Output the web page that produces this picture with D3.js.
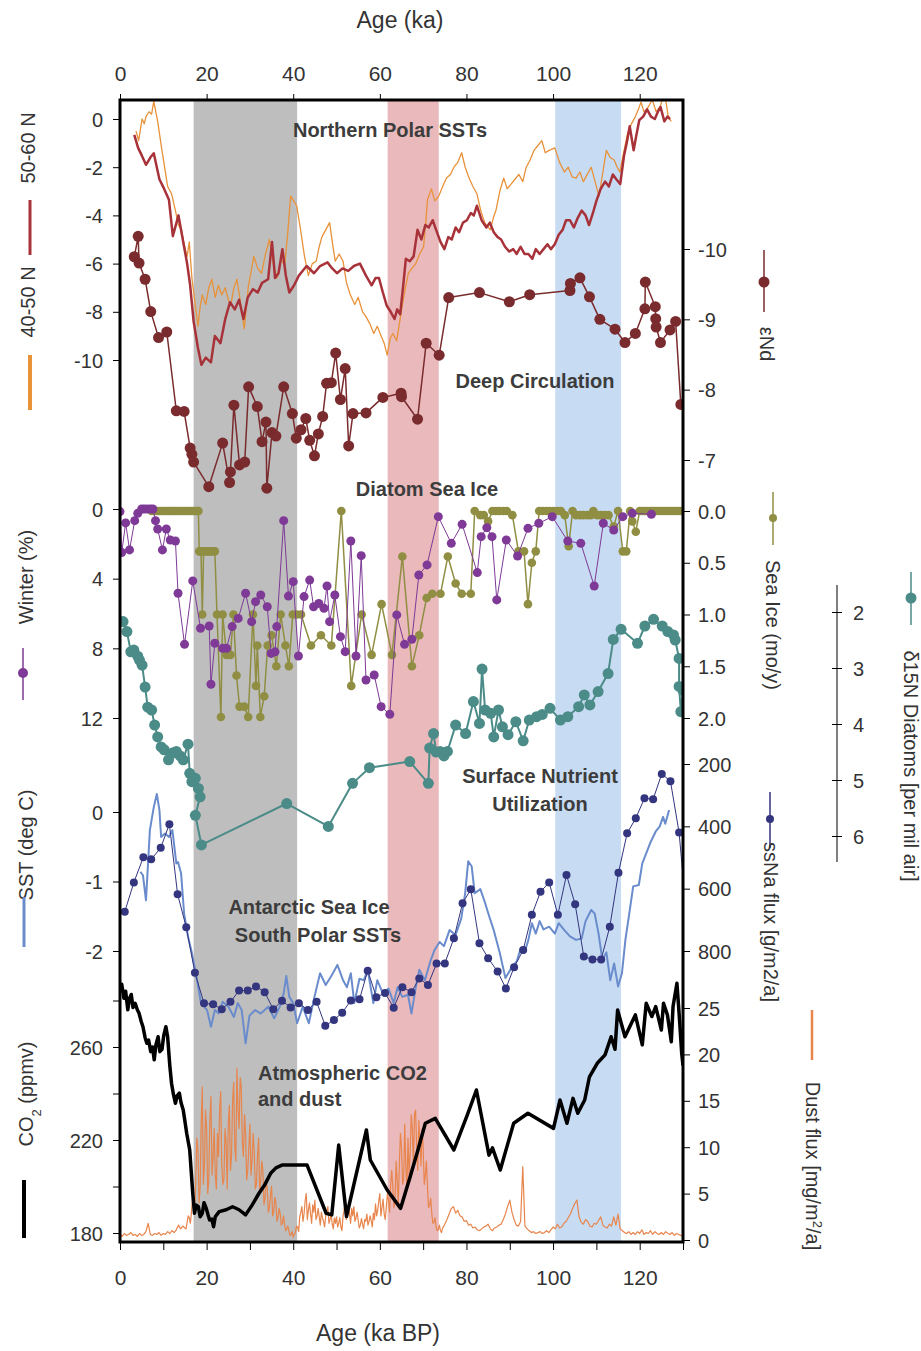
<!DOCTYPE html>
<html><head><meta charset="utf-8">
<script src="https://cdn.jsdelivr.net/npm/d3@7"></script>
<style>body{margin:0;background:#fff}svg{display:block}text{font-family:"Liberation Sans",Arial,sans-serif}</style>
</head><body><svg id="c" width="921" height="1351"></svg>
<script>
// ---------------- DATA ----------------
const bands = [[17.0,40.9,"#bebebe"],[61.8,73.6,"#e9b9bb"],[100.5,115.7,"#c7dbf2"]];
const ageTicksTop = [0,20,40,60,80,100,120];
const ageTicksBottom = [0,10,20,30,40,50,60,70,80,90,100,110,120,130];

const sst5060 = [[3.3,-0.66],[4.2,-1.21],[5.0,-1.5],[6.0,-1.9],[7.0,-1.6],[7.8,-1.42],[9.1,-2.5],[10.2,-2.9],[11.3,-3.35],[12.2,-4.86],[13.5,-4.0],[14.8,-5.3],[15.5,-6.0],[16.2,-6.9],[17.0,-8.4],[18.0,-9.5],[18.8,-10.2],[19.8,-9.9],[21.0,-10.1],[21.9,-9.0],[23.2,-9.3],[24.3,-8.3],[25.4,-7.6],[26.5,-7.9],[27.5,-7.5],[28.5,-8.3],[29.5,-7.4],[30.7,-7.06],[31.8,-7.2],[32.8,-6.8],[34.2,-6.65],[35.1,-5.1],[35.8,-6.6],[36.6,-6.4],[37.5,-5.4],[38.3,-6.5],[39.1,-7.2],[40.2,-6.9],[41.3,-6.5],[42.2,-6.3],[43.1,-6.1],[44.8,-6.4],[46.2,-6.1],[47.9,-5.95],[49.0,-6.2],[50.1,-6.4],[51.4,-6.2],[52.7,-6.3],[54.0,-6.1],[55.4,-6.0],[56.8,-6.5],[58.1,-6.9],[59.0,-6.6],[59.8,-6.6],[60.7,-7.2],[61.6,-7.75],[62.5,-8.0],[63.4,-8.3],[64.0,-7.9],[64.7,-8.1],[65.4,-6.9],[66.0,-5.8],[66.9,-5.9],[67.8,-5.7],[68.7,-4.6],[69.6,-5.0],[70.5,-4.4],[71.3,-4.5],[72.2,-4.2],[73.0,-4.6],[74.0,-5.1],[74.9,-5.4],[75.8,-4.9],[76.6,-5.0],[77.5,-4.5],[78.3,-4.7],[79.2,-4.3],[80.1,-4.2],[81.0,-3.9],[81.7,-4.0],[82.4,-3.6],[83.5,-4.2],[84.6,-4.5],[85.4,-4.3],[86.3,-4.7],[87.2,-4.9],[88.0,-5.0],[88.9,-5.3],[89.9,-5.5],[90.8,-5.4],[91.6,-5.6],[92.5,-5.3],[93.4,-5.6],[94.3,-5.6],[95.2,-5.8],[96.0,-5.4],[96.9,-5.6],[97.8,-5.4],[98.7,-5.2],[99.5,-5.4],[100.4,-5.2],[101.3,-4.8],[102.2,-4.6],[103.0,-4.2],[103.9,-4.2],[104.8,-4.5],[105.7,-4.1],[106.6,-3.8],[107.5,-4.0],[108.3,-4.4],[109.2,-3.9],[110.0,-3.4],[111.0,-2.9],[112.0,-2.6],[112.9,-2.8],[113.8,-2.3],[114.6,-2.5],[115.5,-2.7],[116.4,-1.5],[117.0,-1.0],[117.7,-0.3],[118.6,-1.3],[119.2,-0.7],[119.9,-0.05],[120.8,0.1],[121.7,0.4],[122.6,0.1],[123.5,0.0],[124.2,0.3],[124.8,0.5],[125.7,-0.1],[126.4,0.1],[127.0,0.0]];

const sst4050 = [[3.7,-0.5],[4.3,-0.9],[5.1,0.0],[5.6,-0.2],[6.0,0.1],[6.7,0.3],[7.3,0.2],[7.8,0.73],[8.7,-0.1],[9.6,-1.2],[10.3,-2.0],[11.0,-2.8],[11.9,-3.1],[12.8,-3.8],[13.5,-4.4],[14.2,-4.6],[14.8,-5.2],[15.5,-5.7],[16.0,-5.1],[16.6,-6.6],[17.3,-7.6],[18.0,-8.6],[18.5,-7.8],[19.0,-7.3],[19.8,-7.7],[20.5,-7.0],[21.2,-6.65],[22.0,-7.4],[22.7,-6.9],[23.5,-7.3],[24.3,-7.0],[25.0,-7.5],[25.6,-7.7],[26.3,-7.0],[27.0,-6.65],[27.8,-7.6],[28.7,-8.7],[29.6,-7.0],[30.2,-6.4],[30.9,-5.7],[31.8,-6.2],[32.7,-6.4],[33.6,-5.6],[34.5,-5.0],[35.4,-6.0],[36.3,-6.6],[37.2,-5.8],[38.0,-6.1],[38.7,-4.8],[39.4,-3.2],[40.1,-3.4],[40.8,-3.6],[41.7,-4.6],[42.6,-5.7],[43.5,-6.5],[44.4,-6.0],[45.3,-5.9],[46.0,-5.3],[46.6,-4.9],[47.5,-4.6],[48.4,-4.3],[49.1,-5.2],[49.7,-5.9],[50.6,-5.6],[51.5,-5.9],[52.3,-6.8],[53.2,-7.3],[54.2,-7.7],[55.0,-7.4],[56.0,-8.0],[56.8,-8.2],[57.7,-8.5],[58.6,-8.9],[59.4,-8.6],[60.3,-9.0],[61.0,-9.3],[61.7,-9.8],[62.4,-9.1],[63.0,-8.9],[63.9,-9.2],[64.5,-8.5],[65.2,-7.7],[65.9,-7.0],[66.6,-6.4],[67.4,-6.2],[68.3,-6.0],[69.2,-5.6],[70.1,-5.3],[70.6,-4.3],[71.0,-3.35],[71.9,-2.9],[72.7,-3.4],[73.6,-3.2],[74.5,-2.8],[75.4,-2.45],[76.3,-2.3],[77.1,-2.0],[78.0,-1.8],[78.9,-1.4],[79.7,-2.0],[80.6,-2.45],[81.5,-2.8],[82.4,-3.1],[83.3,-3.8],[84.2,-4.3],[85.5,-4.6],[86.2,-4.1],[86.8,-3.8],[87.7,-3.0],[88.6,-2.45],[89.4,-2.9],[90.3,-2.7],[91.2,-2.5],[92.1,-2.3],[93.0,-2.6],[93.8,-2.0],[94.7,-1.7],[95.6,-1.3],[96.5,-1.1],[97.4,-0.9],[98.2,-1.4],[99.1,-1.3],[100.4,-1.2],[101.5,-1.8],[102.6,-2.2],[103.5,-2.0],[104.4,-2.4],[105.3,-2.45],[106.2,-2.2],[107.0,-2.6],[107.9,-2.3],[108.8,-2.0],[109.7,-2.6],[110.6,-3.2],[111.5,-2.2],[112.3,-1.3],[113.2,-1.6],[114.1,-1.7],[114.8,-2.0],[115.4,-2.2],[116.3,-1.4],[117.2,-0.6],[118.1,-0.2],[119.0,0.1],[119.7,0.4],[120.3,0.7],[121.0,0.3],[121.6,0.4],[122.3,0.6],[122.9,0.8],[123.8,0.3],[124.7,0.5],[125.4,0.9],[126.0,0.8],[126.5,0.2],[126.9,0.0],[127.3,-0.1]];

const epsNd = [[3.3,-9.89],[4.2,-10.18],[4.4,-9.80],[5.8,-9.57],[7.1,-9.11],[8.9,-8.74],[10.8,-8.82],[13.0,-7.70],[14.8,-7.69],[16.2,-7.17],[16.6,-7.08],[17.0,-6.97],[20.5,-6.62],[23.7,-7.24],[25.3,-6.68],[25.5,-6.83],[26.3,-7.78],[27.6,-6.93],[28.8,-6.97],[29.7,-8.04],[31.7,-7.76],[32.8,-7.26],[33.7,-7.54],[33.9,-6.60],[35.1,-7.39],[36.0,-7.34],[37.8,-8.04],[39.8,-7.66],[40.7,-7.31],[41.8,-7.43],[42.9,-7.59],[43.8,-7.28],[44.9,-7.06],[45.8,-7.37],[46.8,-7.62],[47.7,-8.09],[48.8,-8.10],[49.8,-8.52],[50.9,-7.86],[52.0,-8.30],[52.8,-7.20],[53.8,-7.66],[56.8,-7.67],[60.7,-7.89],[64.9,-7.95],[65.0,-7.90],[68.7,-7.58],[70.7,-8.66],[73.7,-8.49],[75.9,-9.31],[83.0,-9.38],[89.9,-9.25],[94.6,-9.35],[103.9,-9.41],[104.0,-9.51],[106.2,-9.59],[108.4,-9.32],[110.8,-9.00],[114.3,-8.86],[116.6,-8.67],[119.0,-8.80],[121.2,-9.15],[121.3,-9.53],[123.6,-9.18],[123.7,-9.01],[123.8,-8.89],[124.8,-8.67],[127.0,-8.85],[128.3,-8.97],[129.5,-7.79]];

const winterIce = [[0,0.15],[0.4,2.5],[1.3,0.8],[2.2,2.35],[3.4,0.67],[4.1,0.25],[5.0,0],[5.6,0],[6.3,0],[7.0,0],[7.6,0],[8.2,0.67],[8.7,1.15],[9.8,2.35],[10.7,1.15],[11.6,1.78],[12.8,1.84],[13.4,4.84],[14.9,7.77],[16.8,4.13],[18.6,6.85],[20.6,6.72],[21.0,10.06],[21.9,7.71],[23.7,8.0],[24.6,8.0],[25.9,6.75],[27.3,6.28],[29.0,4.84],[30.4,6.47],[31.3,5.32],[32.5,4.94],[34.0,5.61],[34.9,8.29],[35.8,8.2],[36.2,6.75],[37.8,0.67],[38.9,5.0],[40.0,4.17],[41.2,8.44],[42.5,5.03],[43.8,4.08],[44.7,5.61],[45.9,5.42],[47.1,5.7],[47.8,4.42],[48.4,6.47],[49.6,4.94],[50.9,7.33],[52.0,8.19],[53.3,1.84],[54.5,8.44],[55.7,2.68],[56.8,9.82],[58.7,9.53],[60.3,11.35],[62.3,11.79],[63.9,6.08],[65.7,7.77],[67.4,7.48],[69.0,3.79],[70.9,3.21],[73.5,0.44],[76.5,1.97],[79.0,0.88],[82.5,3.65],[83.4,1.59],[84.7,1.07],[85.9,1.59],[87.0,5.22],[89.2,1.78],[91.8,2.70],[94.2,1.11],[96.7,0.82],[99.8,0.44],[103.4,1.84],[106.4,1.97],[109.5,4.42],[111.6,0.82],[114.0,1.21],[116.1,0.44],[118.3,0.25],[122.7,0.3]];

const seaIce = [[7.3,0],[7.8,0],[8.3,0],[8.8,0],[9.3,0],[9.8,0],[10.3,0],[10.8,0],[11.3,0],[11.8,0],[12.3,0],[12.8,0],[13.3,0],[13.8,0],[14.3,0],[14.8,0],[15.3,0],[15.8,0],[16.3,0],[16.8,0],[17.3,0],[17.8,0],[18.1,0],[18.3,0.39],[18.7,0.39],[19.0,1.0],[19.3,0.39],[19.8,0.39],[20.3,0.39],[20.8,0.39],[21.3,0.39],[21.9,0.39],[22.4,1.0],[23.3,1.99],[23.7,1.0],[24.6,1.39],[25.5,1.39],[26.2,1.0],[26.9,1.59],[27.6,1.89],[28.7,1.89],[29.6,1.99],[30.7,1.0],[31.4,1.69],[31.7,1.30],[32.4,1.99],[33.3,1.79],[34.1,1.30],[35.0,1.20],[36.1,1.50],[37.1,1.0],[38.2,1.30],[39.0,1.50],[39.9,1.0],[40.8,1.0],[41.8,1.0],[44.1,1.30],[46.4,1.20],[48.8,1.30],[51.1,0.0],[53.4,1.69],[55.8,1.0],[58.1,1.39],[60.4,0.90],[62.8,1.39],[65.2,0.44],[67.4,1.50],[69.1,1.20],[70.8,0.84],[72.1,0.80],[74.0,0.80],[75.7,0.44],[77.5,0.70],[78.9,0.80],[81.0,0.80],[81.9,0.0],[83.2,0.04],[84.0,0.04],[85.0,0.1],[86.0,0.0],[86.8,0.0],[87.6,0.0],[88.5,0.0],[89.3,0.0],[90.6,0.04],[92.0,0.39],[93.3,0.39],[94.2,0.9],[95.1,0.5],[96.0,0.39],[96.8,0.0],[97.6,0.0],[98.5,0.0],[99.3,0.0],[100.1,0.0],[101.0,0.0],[101.8,0.0],[102.7,0.04],[103.6,0.34],[104.5,0.0],[105.3,0.04],[106.2,0.04],[107.0,0.04],[107.9,0.04],[108.7,0.04],[109.3,0.0],[110.2,0.04],[111.0,0.04],[111.9,0.04],[112.8,0.04],[114.0,0.15],[115.0,0.0],[116.1,0.39],[116.9,0.39],[117.8,0.0],[118.3,0.1],[119.1,0.2],[120.0,0.0],[120.6,0],[121.2,0],[121.8,0],[122.4,0],[123.0,0],[123.6,0],[124.2,0],[124.8,0],[125.4,0],[126.0,0],[126.6,0],[127.2,0],[127.8,0],[128.4,0],[129.0,0],[129.6,0]];

const d15N = [[0.7,2.17],[1.6,2.35],[2.5,2.71],[3.2,2.68],[4.1,2.79],[4.5,2.86],[5.1,2.95],[5.8,3.34],[6.4,3.70],[7.3,3.75],[8.0,4.02],[8.7,4.23],[9.5,4.41],[10.2,4.46],[11.2,4.64],[12.1,4.52],[13.0,4.49],[13.9,4.57],[14.6,4.64],[15.7,4.36],[16.1,4.88],[16.6,5.03],[17.4,4.97],[18.1,5.15],[18.5,5.30],[17.4,5.63],[18.8,6.16],[38.5,5.42],[48.1,5.83],[53.7,5.06],[57.6,4.78],[66.9,4.67],[71.2,5.06],[71.5,4.43],[72.4,4.17],[73.0,4.50],[73.9,4.49],[74.8,4.57],[75.6,4.49],[77.5,4.02],[79.8,4.17],[81.6,3.60],[83.0,3.99],[83.6,3.02],[84.3,3.75],[85.6,3.81],[86.3,4.23],[87.4,3.75],[88.3,4.05],[89.6,4.19],[91.4,3.96],[93.1,4.30],[94.5,3.93],[96.2,3.87],[97.5,3.83],[99.3,3.72],[101.7,3.93],[103.4,3.87],[105.9,3.69],[107.2,3.48],[108.5,3.66],[110.4,3.42],[112.7,3.10],[113.9,2.49],[115.7,2.31],[119.5,2.56],[121.2,2.25],[123.2,2.13],[125.2,2.25],[126.5,2.35],[127.8,2.41],[128.2,2.50],[129.1,2.83],[129.1,3.33],[129.5,3.78],[130.0,3.40]];

const ssNa = [[1.1,674],[3.2,580],[5.4,499],[7.2,506],[9.4,469],[11.4,393],[13.3,618],[15.3,724],[17.3,870],[19.4,968],[21.5,971],[23.5,987],[25.5,963],[27.5,927],[29.5,927],[31.4,914],[33.4,932],[35.4,987],[37.4,960],[39.4,981],[41.3,968],[43.4,989],[45.4,963],[47.4,1040],[49.4,1021],[51.3,998],[53.3,959],[55.3,955],[57.2,863],[59.2,948],[61.2,935],[63.2,982],[65.2,916],[67.3,932],[69.1,888],[71.1,909],[73.1,840],[75.0,840],[77.1,759],[79.1,647],[81.0,602],[83.0,775],[85.0,823],[87.2,866],[89.1,920],[91.0,852],[93.1,797],[95.1,684],[97.1,610],[99.1,580],[101.1,684],[103.1,556],[105.1,650],[107.1,818],[109.1,827],[111.1,827],[113.1,722],[115.1,549],[117.1,422],[119.1,374],[121.1,310],[123.1,313],[125.1,232],[127.1,255],[129.1,420]];
const ssNaTail = [[129.1,420],[130,560]];

const sstSouth = [[4.7,-0.86],[5.3,-0.91],[6.0,-1.27],[6.9,-0.26],[7.8,0.07],[8.5,0.26],[9.1,0.03],[9.5,-0.36],[10.4,-0.31],[11.3,-0.36],[12.1,-0.26],[13.0,-0.74],[13.4,-0.72],[14.1,-0.88],[14.8,-1.46],[15.7,-1.79],[16.6,-2.03],[17.5,-2.32],[17.8,-2.42],[18.7,-2.75],[20.1,-2.85],[21.0,-3.09],[21.9,-2.85],[22.8,-2.90],[23.7,-2.73],[25.0,-2.80],[26.3,-2.95],[27.2,-2.75],[28.1,-2.85],[29.0,-3.33],[29.9,-2.93],[31.2,-2.85],[32.5,-2.90],[34.3,-2.80],[35.6,-2.97],[36.9,-2.80],[37.8,-2.61],[38.4,-2.36],[39.1,-2.66],[40.0,-2.75],[40.9,-3.04],[42.2,-2.80],[43.6,-3.04],[44.9,-2.66],[46.2,-2.32],[47.5,-2.49],[48.9,-2.35],[50.2,-2.20],[51.5,-2.42],[52.4,-2.52],[53.3,-2.32],[54.1,-2.75],[55.3,-2.40],[56.3,-2.42],[57.2,-2.27],[58.5,-2.75],[59.4,-2.42],[60.7,-2.61],[62.0,-2.54],[63.2,-2.75],[64.1,-2.52],[65.2,-2.66],[66.5,-2.63],[67.3,-2.90],[68.3,-2.52],[69.1,-2.27],[70.4,-2.42],[71.7,-2.14],[72.6,-1.99],[73.8,-1.87],[74.8,-1.93],[76.1,-1.70],[77.5,-1.77],[78.8,-1.53],[79.7,-1.17],[80.4,-0.71],[81.2,-0.78],[81.9,-1.17],[83.2,-1.11],[84.1,-1.27],[85.3,-1.51],[86.3,-1.70],[87.7,-2.03],[89.0,-2.39],[90.3,-2.25],[91.6,-2.15],[92.5,-1.97],[93.4,-2.02],[94.3,-1.84],[95.1,-1.60],[96.0,-1.75],[96.9,-1.57],[97.8,-1.69],[99.1,-1.65],[100.4,-1.75],[101.3,-1.60],[102.6,-1.70],[103.9,-1.79],[105.3,-1.84],[106.6,-1.82],[107.5,-1.57],[108.8,-1.41],[109.6,-1.46],[110.5,-1.75],[111.4,-2.13],[112.3,-2.02],[113.2,-2.42],[114.1,-2.18],[115.0,-2.51],[115.9,-2.32],[116.7,-1.84],[117.6,-1.46],[118.5,-1.07],[119.8,-1.05],[120.6,-0.74],[122.4,-0.45],[123.7,-0.28],[124.6,-0.21],[125.4,-0.07],[125.9,-0.17],[126.8,0.03]];

const co2 = [[0,283.8],[0.4,287],[0.9,281],[1.3,284],[1.8,276],[2.2,281],[2.6,282.6],[3.0,277],[3.5,278.8],[4.0,276],[4.4,274.5],[4.9,271],[5.3,268.7],[5.8,264],[6.2,261.6],[6.6,263],[7.1,258],[7.5,260],[7.9,254.5],[8.3,261],[8.8,264.4],[9.2,258],[9.7,259],[10.1,265],[10.6,268.7],[11.0,264.4],[11.5,252],[11.9,244.4],[12.3,240],[12.8,235.8],[13.2,239],[13.7,240.2],[14.1,236],[14.6,232.9],[15.0,228],[15.4,222.9],[16.1,215.7],[16.5,205],[16.8,197],[17.2,188.5],[17.6,192],[18.1,191.3],[18.5,187],[19.0,188.5],[19.4,193],[19.9,190.7],[20.3,188],[20.7,185.6],[21.2,186],[21.6,182.7],[22.0,187],[22.9,189.2],[24.5,190],[26.0,191.3],[27.5,190],[29.0,187.8],[30.5,192],[32.1,197.1],[33.5,201],[34.8,205.7],[36.0,208],[37.4,209.2],[43.2,209.2],[47.6,188.5],[48.9,187.8],[50.5,217.8],[52.3,187.1],[56.9,224.3],[57.8,211.4],[61.7,198.5],[64.8,190.6],[67.0,204.2],[68.8,215.7],[70.5,227.2],[72.8,229.3],[77.1,215.7],[80.2,230.8],[82.3,241.5],[85.2,213.5],[86.0,216.6],[87.8,207.1],[90.9,227.2],[94.2,231.5],[100.1,225],[101.6,237.2],[103.2,227.2],[104.6,237.9],[105.7,231.5],[107.3,237.2],[108.4,247.2],[110.2,253],[112.0,256.6],[113.4,264.4],[114.3,259],[114.9,275.9],[116.6,264.4],[119.0,273.8],[120.6,260.9],[121.5,278.8],[122.8,273.1],[123.7,277.4],[125.0,267.3],[125.5,278.8],[126.4,273.8],[127.3,262.3],[127.7,277.4],[128.6,287.4],[129.1,274.5],[129.7,257.3],[130,252]];

// dust flux on a 0.5 ka grid, plus intermediate samples in the dusty intervals
const dustStep = 0.5;
const dustFlux = [0.6,0.4,0.7,0.5,0.6,0.8,0.5,0.6,0.4,0.7,0.5,0.6,0.9,1.8,0.6,0.5,0.7,0.6,0.8,0.5,
0.7,0.6,0.9,0.7,1.0,0.8,1.1,1.6,1.2,1.5,1.3,1.9,2.4,3.0,4.2,6.5,9.8,5.5,16.5,8.0,
12.0,6.5,15.5,9.0,7.0,11.5,14.0,8.0,6.5,10.5,12.5,7.5,15.0,10.0,18.5,12.0,16.5,9.0,11.5,7.5,
12.5,8.5,9.5,6.0,11.0,6.5,7.5,4.5,5.5,3.5,5.8,3.0,4.0,2.5,2.8,1.8,1.7,1.2,1.0,0.6,
0.3,0.8,1.4,2.5,3.6,2.8,5.0,3.2,2.8,3.8,4.3,2.6,2.5,3.0,2.0,2.6,3.6,2.2,1.7,2.4,
2.5,1.8,1.4,2.6,4.3,3.0,2.8,3.4,3.6,2.4,2.1,1.6,1.7,2.2,2.8,2.0,2.1,2.9,3.9,3.2,
5.0,3.5,2.8,3.6,4.3,6.0,5.7,4.2,6.4,8.0,10.0,6.5,7.9,11.0,9.3,12.0,13.5,10.0,12.9,8.0,
10.0,7.0,5.7,3.8,2.8,1.9,1.4,1.1,1.0,1.3,1.7,2.2,2.8,3.4,3.6,2.9,3.2,2.6,2.5,2.0,
2.1,1.6,1.7,1.3,1.4,1.1,1.0,1.2,1.4,1.5,1.7,1.2,1.0,1.3,1.4,1.6,1.7,2.2,2.8,3.6,
4.3,3.0,2.2,1.6,1.5,2.0,7.9,1.5,1.2,1.0,0.8,0.9,0.7,0.8,0.9,0.7,0.8,1.0,0.8,1.1,
1.4,1.2,1.7,1.3,1.4,1.8,2.0,2.4,2.8,3.4,3.9,4.3,2.5,1.9,1.7,2.2,2.0,1.5,1.4,1.8,
1.7,2.1,2.5,1.6,1.4,1.3,1.7,1.5,2.5,1.6,2.8,1.2,1.0,0.8,0.7,0.9,0.6,0.8,0.6,0.9,
0.7,1.1,0.6,0.8,0.7,1.0,0.6,0.9,0.7,0.6,0.8,0.6,0.9,0.7,0.6,0.8,0.5,0.7,0.6,0.5,0.4];
const dustMid = [[15.25,1.2],[15.75,2.6],[16.25,1.8],[16.75,4.5],[17.25,2.8],[17.75,11.0],[18.25,4.0],[18.75,12.5],[19.25,6.0],[19.75,14.0],[20.25,5.0],[20.75,13.0],[21.25,7.0],[21.75,12.0],[22.25,5.5],[22.75,9.0],[23.25,16.0],[23.75,6.0],[24.25,12.0],[24.75,5.5],[25.25,14.5],[25.75,9.0],[26.25,17.0],[26.75,8.5],[27.25,14.0],[27.75,17.5],[28.25,10.5],[28.75,13.5],[29.25,6.5],[29.75,10.0],[30.25,7.0],[30.75,11.5],[31.25,5.5],[31.75,9.0],[32.25,5.0],[32.75,8.5],[33.25,3.8],[33.75,6.5],[34.25,3.0],[34.75,4.8],[35.25,2.6],[35.75,4.6],[36.25,2.0],[36.75,3.4],[37.25,1.6],[37.75,2.6],[38.25,1.0],[38.75,1.5],[39.25,0.5],[39.75,0.9],
[40.25,0.6],[40.75,1.5],[41.25,0.9],[41.75,3.0],[42.25,2.0],[42.75,4.2],[43.25,2.2],[43.75,4.0],[44.25,1.8],[44.75,3.0],[45.25,2.2],[45.75,3.4],[46.25,1.6],[46.75,2.4],[47.25,1.4],[47.75,3.0],[48.25,1.8],[48.75,2.8],[49.25,1.2],[49.75,1.8],[50.25,1.4],[50.75,2.4],[51.25,1.0],[51.75,3.2],[52.25,2.2],[52.75,3.8],[53.25,1.8],[53.75,2.6],[54.25,2.0],[54.75,3.0],[55.25,1.3],[55.75,2.3],[56.25,1.2],[56.75,2.0],[57.25,1.6],[57.75,2.6],[58.25,1.4],[58.75,2.2],[59.25,2.6],[59.75,4.2],
[60.25,2.6],[60.75,4.4],[61.25,2.2],[61.75,5.0],[62.25,3.0],[62.75,7.5],[63.25,3.5],[63.75,8.5],[64.25,4.0],[64.75,11.5],[65.25,6.0],[65.75,12.5],[66.25,5.5],[66.75,7.0],[67.25,13.5],[67.75,8.0],[68.25,14.0],[68.75,7.5],[69.25,10.5],[69.75,12.0],[70.25,6.0],[70.75,8.5],[71.25,3.5],[71.75,4.5],[72.25,1.8],[72.75,2.4],[73.25,1.0],[73.75,1.6],[74.25,0.8],[74.75,1.5]];

// ---------------- CHART ----------------
const svg = d3.select("#c");
const X0 = 120, X1 = 683, Y0 = 100, Y1 = 1242;
const FONT = '"Liberation Sans", Arial, sans-serif';
const x = d3.scaleLinear().domain([0,130]).range([X0,X1]);

const yNps   = d3.scaleLinear().domain([0,-10]).range([119,360]);
const yNd    = d3.scaleLinear().domain([-10,-7]).range([249,460]);
const yWin   = d3.scaleLinear().domain([0,12]).range([509,718]);
const yIce   = d3.scaleLinear().domain([0,2]).range([511,718]);
const yN15   = d3.scaleLinear().domain([2,6]).range([612,836]);
const yNa    = d3.scaleLinear().domain([200,800]).range([764,951]);
const ySst   = d3.scaleLinear().domain([0,-2]).range([812,951]);
const yCo2   = d3.scaleLinear().domain([180,260]).range([1233,1047]);
const yDust  = d3.scaleLinear().domain([0,25]).range([1240,1008]);

const C = {red:"#a8323a", orange:"#e8923a", nd:"#7a2b2e", win:"#7e3a96", ice:"#8f8e42",
  n15:"#4b8b88", na:"#33357f", sst:"#6a8ccc", co2:"#000", dust:"#e8854c", txt:"#333"};

svg.append("defs").append("clipPath").attr("id","plot")
  .append("rect").attr("x",X0).attr("y",Y0).attr("width",X1-X0).attr("height",Y1-Y0);

svg.append("g").selectAll("rect").data(bands).join("rect")
  .attr("x", d=>x(d[0])).attr("width", d=>x(d[1])-x(d[0]))
  .attr("y",Y0).attr("height",Y1-Y0).attr("fill", d=>d[2]);

const plot = svg.append("g").attr("clip-path","url(#plot)");

function line(data, ys, color, w) {
  plot.append("path").datum(data)
    .attr("d", d3.line().x(d=>x(d[0])).y(d=>ys(d[1])))
    .attr("fill","none").attr("stroke",color).attr("stroke-width",w)
    .attr("stroke-linejoin","round");
}
function dots(data, ys, color, r) {
  plot.append("g").selectAll("circle").data(data).join("circle")
    .attr("cx", d=>x(d[0])).attr("cy", d=>ys(d[1])).attr("r", r).attr("fill", color);
}

const dustData = dustFlux.map((v,i)=>[i*dustStep, v]).concat(dustMid).sort((a,b)=>a[0]-b[0]);
line(dustData, yDust, C.dust, 1.2);
line(co2, yCo2, C.co2, 3.5);
line(sstSouth, ySst, C.sst, 2);
line(ssNa, yNa, C.na, 1);
line(ssNaTail, yNa, C.na, 1);
dots(ssNa, yNa, C.na, 4);
line(d15N, yN15, C.n15, 2);
dots(d15N, yN15, C.n15, 5.5);
line(seaIce, yIce, C.ice, 1.5);
dots(seaIce, yIce, C.ice, 4.3);
line(winterIce, yWin, C.win, 1);
dots(winterIce, yWin, C.win, 4.5);
line(epsNd, yNd, C.nd, 1.5);
dots(epsNd, yNd, C.nd, 5.5);
line(sst4050, yNps, C.orange, 1.3);
line(sst5060, yNps, C.red, 2.5);

svg.append("rect").attr("x",X0).attr("y",Y0).attr("width",X1-X0).attr("height",Y1-Y0)
  .attr("fill","none").attr("stroke","#000").attr("stroke-width",3);

function styleAxis(g) {
  g.select(".domain").remove();
  g.selectAll("line").attr("stroke","#000").attr("stroke-width",1);
  g.selectAll("text").attr("font-family",FONT).attr("font-size",20).attr("fill",C.txt);
}
svg.append("g").attr("transform",`translate(0,${Y0})`)
  .call(d3.axisTop(x).tickValues(ageTicksTop).tickSize(6).tickFormat(d=>String(d)))
  .call(styleAxis).call(g=>g.selectAll("text").attr("y",-26).attr("dy","0.35em").attr("font-size",21));
svg.append("g").attr("transform",`translate(0,${Y1})`)
  .call(d3.axisBottom(x).tickValues(ageTicksBottom).tickSize(8).tickFormat(d=>d%20===0?String(d):""))
  .call(styleAxis).call(g=>g.selectAll("text").attr("y",36).attr("dy","0.35em").attr("font-size",21));

function leftAxis(scale, ticks, labels, fmt) {
  svg.append("g").attr("transform",`translate(${X0},0)`)
    .call(d3.axisLeft(scale).tickValues(ticks).tickSize(7).tickPadding(10)
      .tickFormat(d=>labels.includes(d)?fmt(d):""))
    .call(styleAxis).call(g=>g.selectAll("text").attr("dy","0.35em"));
}
function rightAxis(scale, ticks, fmt) {
  svg.append("g").attr("transform",`translate(${X1},0)`)
    .call(d3.axisRight(scale).tickValues(ticks).tickSize(7).tickPadding(8).tickFormat(fmt))
    .call(styleAxis).call(g=>g.selectAll("text").attr("dy","0.35em"));
}
const npsTicks = [0,-2,-4,-6,-8,-10];
const winTicks = [0,4,8,12];
const sstTicks = [0,-1,-2];
const co2Ticks = [180,200,220,240,260,280];
const co2Labels = [180,220,260];
const ndTicks = [-10,-9,-8,-7];
const iceTicks = [0,0.5,1,1.5,2];
const naTicks = [200,400,600,800];
const dustTicks = [0,5,10,15,20,25];
const n15Ticks = [2,3,4,5,6];

leftAxis(yNps, npsTicks, npsTicks, d=>String(d));
leftAxis(yWin, winTicks, winTicks, d=>String(d));
leftAxis(ySst, sstTicks, sstTicks, d=>String(d));
leftAxis(yCo2, co2Ticks, co2Labels, d=>String(d));
rightAxis(yNd, ndTicks, d=>String(d));
rightAxis(yIce, iceTicks, d=>d.toFixed(1));
rightAxis(yNa, naTicks, d=>String(d));
rightAxis(yDust, dustTicks, d=>String(d));

const n15g = svg.append("g").attr("transform","translate(837,0)");
n15g.append("line").attr("x1",0).attr("x2",0).attr("y1",585).attr("y2",862).attr("stroke","#000").attr("stroke-width",1);
n15g.call(d3.axisRight(yN15).tickValues(n15Ticks).tickSize(5).tickPadding(11).tickFormat(d=>String(d)))
  .call(styleAxis)
  .call(g=>{g.selectAll(".tick line").attr("x1",-5); g.selectAll("text").attr("dy","0.35em");});

const titles = [
  ["Northern Polar SSTs",390,130,"middle"],
  ["Deep Circulation",535,381,"middle"],
  ["Diatom Sea Ice",427,489,"middle"],
  ["Surface Nutrient",540,776,"middle"],
  ["Utilization",540,804,"middle"],
  ["Antarctic Sea Ice",309,907,"middle"],
  ["South Polar SSTs",318,935,"middle"],
  ["Atmospheric CO2",258,1073,"start"],
  ["and dust",258,1099,"start"]];
svg.append("g").selectAll("text").data(titles).join("text")
  .attr("x",d=>d[1]).attr("y",d=>d[2]).attr("text-anchor",d=>d[3]).attr("dy","0.35em")
  .attr("font-family",FONT).attr("font-weight","bold").attr("font-size",20).attr("fill","#3c3c3c")
  .text(d=>d[0]);

svg.append("text").attr("x",400).attr("y",20).attr("dy","0.35em").attr("text-anchor","middle")
  .attr("font-family",FONT).attr("font-size",23).attr("fill",C.txt).text("Age (ka)");
svg.append("text").attr("x",378).attr("y",1333).attr("dy","0.35em").attr("text-anchor","middle")
  .attr("font-family",FONT).attr("font-size",23).attr("fill",C.txt).text("Age (ka BP)");

function vtext(cx, cy, rot, parts) {
  const t = svg.append("text").attr("transform",`translate(${cx},${cy}) rotate(${rot})`)
    .attr("text-anchor","middle").attr("dy","0.35em")
    .attr("font-family",FONT).attr("font-size",20).attr("fill",C.txt);
  parts.forEach(p=>{
    const s = t.append("tspan").text(p[0]);
    if (p[1]==="sub") s.attr("font-size",13).attr("baseline-shift","sub");
    if (p[1]==="sup") s.attr("font-size",13).attr("baseline-shift","super");
  });
}
function seg(x0,y0,x1,y1,color,w){
  svg.append("line").attr("x1",x0).attr("y1",y0).attr("x2",x1).attr("y2",y1).attr("stroke",color).attr("stroke-width",w);
}
function marker(cx,y0,y1,cy,color,r){
  seg(cx,y0,cx,y1,color,1.5);
  svg.append("circle").attr("cx",cx).attr("cy",cy).attr("r",r).attr("fill",color);
}
vtext(28,148,-90,[["50-60 N"]]);
seg(30,200,30,255,C.red,3);
vtext(28,302,-90,[["40-50 N"]]);
seg(30,355,30,410,C.orange,4);
vtext(26,577,-90,[["Winter (%)"]]);
marker(23,648,700,673,C.win,5);
vtext(26,845,-90,[["SST (deg C)"]]);
seg(24,897,24,947,C.sst,3);
vtext(26,1094,-90,[["CO"],["2","sub"],[" (ppmv)"]]);
seg(24,1180,24,1238,"#000",4);
marker(764,250,312,282,C.nd,5.5);
vtext(767,344,90,[["εNd"]]);
marker(773,492,545,518,C.ice,4);
vtext(773,625,90,[["Sea Ice (mo/y)"]]);
marker(770,792,848,819,C.na,4);
vtext(771,922,90,[["ssNa flux [g/m2/a]"]]);
seg(812,1010,812,1060,C.dust,2.5);
vtext(813,1166,90,[["Dust flux [mg/m"],["2","sup"],["/a]"]]);
marker(911,572,625,598,C.n15,5.5);
vtext(911,766,90,[["δ15N Diatoms [per mil air]"]]);
</script></body></html>
